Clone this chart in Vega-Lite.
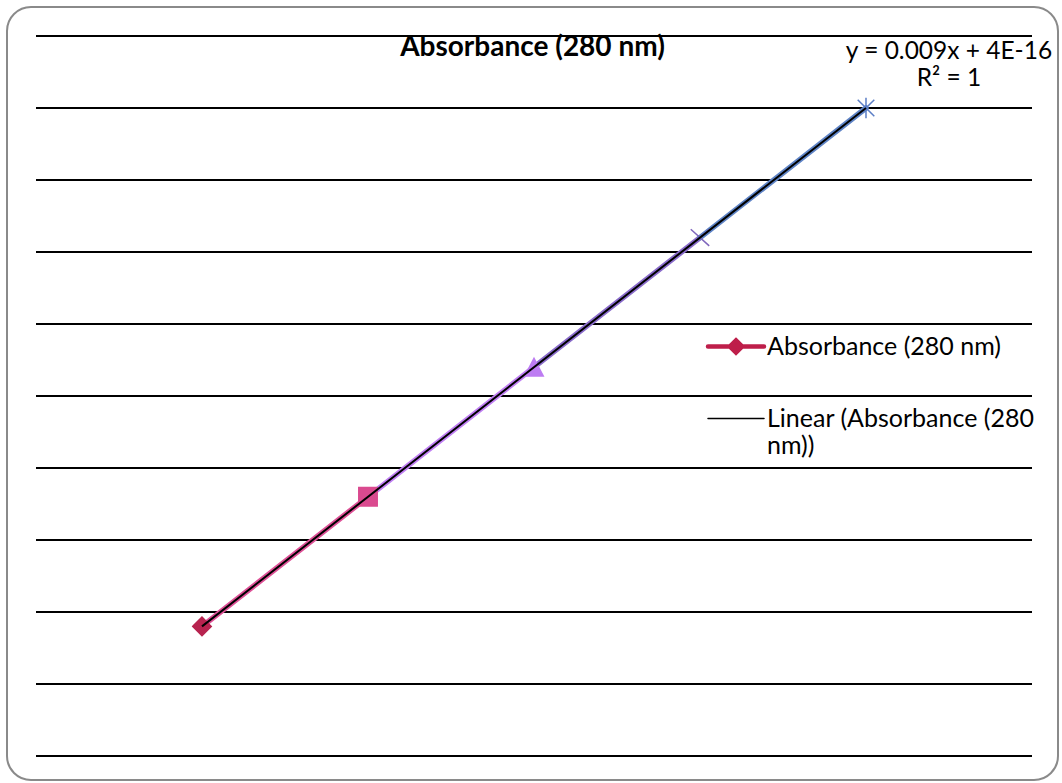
{
  "$schema": "https://vega.github.io/schema/vega-lite/v6.json",
  "width": 1051,
  "height": 773,
  "autosize": {"type": "none"},
  "padding": {"left": 7, "top": 7, "right": 4, "bottom": 3},
  "background": "white",
  "title": {
    "text": "Absorbance (280 nm)",
    "font": "Lato",
    "fontSize": 28,
    "fontWeight": "bold",
    "color": "#000000",
    "anchor": "middle",
    "offset": -55
  },
  "datasets": {
    "absorbance": [
      {"point": "1", "x": 20, "absorbance": 0.18},
      {"point": "2", "x": 40, "absorbance": 0.36},
      {"point": "3", "x": 60, "absorbance": 0.54},
      {"point": "4", "x": 80, "absorbance": 0.72},
      {"point": "5", "x": 100, "absorbance": 0.90}
    ],
    "grid": [
      {"level": 0}, {"level": 0.1}, {"level": 0.2}, {"level": 0.3}, {"level": 0.4},
      {"level": 0.5}, {"level": 0.6}, {"level": 0.7}, {"level": 0.8}, {"level": 0.9},
      {"level": 1.0}
    ],
    "fit": [
      {"label": "y = 0.009x + 4E-16\nR² = 1"}
    ]
  },
  "data": {"name": "absorbance"},
  "resolve": {"scale": {"stroke": "independent"}},
  "layer": [
    {
      "data": {"name": "grid"},
      "mark": {"type": "rule", "color": "#000000", "strokeWidth": 2},
      "encoding": {
        "x": {"datum": 0, "type": "quantitative", "scale": {"domain": [-3.494, 123.133], "nice": false, "zero": false}, "axis": null},
        "x2": {"datum": 120},
        "y": {"field": "level", "type": "quantitative", "scale": {"domain": [-0.03333, 1.04028], "nice": false, "zero": false}, "axis": null}
      }
    },
    {
      "transform": [
        {"window": [
          {"op": "lead", "field": "x", "as": "x_next"},
          {"op": "lead", "field": "absorbance", "as": "a_next"},
          {"op": "lead", "field": "point", "as": "p_next"}
        ], "sort": [{"field": "x", "order": "ascending"}]},
        {"filter": "datum.x_next != null"}
      ],
      "mark": {"type": "rule", "strokeWidth": 5.5, "strokeCap": "round"},
      "encoding": {
        "x": {"field": "x", "type": "quantitative"},
        "y": {"field": "absorbance", "type": "quantitative"},
        "x2": {"field": "x_next"},
        "y2": {"field": "a_next"},
        "stroke": {
          "field": "p_next", "type": "nominal", "legend": null,
          "scale": {"domain": ["1", "2", "3", "4", "5"], "range": ["#B7234F", "#DE5197", "#C07FF3", "#8A6CCB", "#5F84C6"]}
        }
      }
    },
    {
      "mark": {"type": "point", "filled": true, "size": 340, "strokeWidth": 1.5, "opacity": 1},
      "encoding": {
        "x": {"field": "x", "type": "quantitative"},
        "y": {"field": "absorbance", "type": "quantitative"},
        "shape": {
          "field": "point", "type": "nominal", "legend": null,
          "scale": {"domain": ["1", "2", "3", "4", "5"], "range": ["diamond", "square", "M0,-0.95L1,0.95L-1,0.95Z", "M-1,-0.9L1,0.9M-1,0.9L1,-0.9", "M-0.9,-0.9L0.9,0.9M-0.9,0.9L0.9,-0.9M0,-1.1V1.1"]}
        },
        "fill": {
          "field": "point", "type": "nominal", "legend": null,
          "scale": {"domain": ["1", "2", "3", "4", "5"], "range": ["#B7234F", "#DA4A8F", "#BD7CF2", "#7F66BC", "#5B7EC6"]}
        },
        "stroke": {
          "field": "point", "type": "nominal", "legend": null,
          "scale": {"domain": ["1", "2", "3", "4", "5"], "range": ["#B7234F", "#DA4A8F", "#BD7CF2", "#7F66BC", "#5B7EC6"]}
        }
      }
    },
    {
      "transform": [{"regression": "absorbance", "on": "x"}],
      "mark": {"type": "line", "strokeWidth": 2},
      "encoding": {
        "x": {"field": "x", "type": "quantitative"},
        "y": {"field": "absorbance", "type": "quantitative"},
        "color": {
          "datum": "Linear (Absorbance (280 nm))",
          "type": "nominal",
          "scale": {"domain": ["Absorbance (280 nm)", "Linear (Absorbance (280 nm))"], "range": ["#BE1E4A", "#000000"]},
          "legend": {
            "orient": "none",
            "legendX": 701,
            "legendY": 327,
            "title": null,
            "padding": 0,
            "symbolSize": 576,
            "symbolType": "M-1,0H1",
            "symbolStrokeWidth": 1.5,
            "labelFont": "Lato",
            "labelFontSize": 25,
            "labelColor": "#000000",
            "labelOffset": 3,
            "labelLimit": 400,
            "rowPadding": 44,
            "labelExpr": "datum.label == 'Linear (Absorbance (280 nm))' ? ['Linear (Absorbance (280', 'nm))'] : datum.label",
            "encode": {
              "symbols": {
                "update": {
                  "x": {"value": 28},
                  "size": {"value": 3136},
                  "shape": {"signal": "datum.value == 'Absorbance (280 nm)' ? 'M-1,0H1M0,-0.22L0.22,0L0,0.22L-0.22,0Z' : 'M-1,0H1'"},
                  "strokeWidth": {"signal": "datum.value == 'Absorbance (280 nm)' ? 4.5 : 1.5"},
                  "strokeCap": {"value": "round"},
                  "fill": {"signal": "scale('color', datum.value)"},
                  "stroke": {"signal": "scale('color', datum.value)"},
                  "opacity": {"value": 1}
                }
              },
              "labels": {
                "update": {
                  "x": {"value": 59},
                  "lineHeight": {"value": 27}
                }
              }
            }
          }
        }
      }
    },
    {
      "data": {"name": "fit"},
      "mark": {"type": "text", "font": "Lato", "fontSize": 24.5, "color": "#000000", "align": "center", "baseline": "middle", "lineBreak": "\n", "lineHeight": 27},
      "encoding": {
        "x": {"datum": 110, "type": "quantitative"},
        "y": {"datum": 0.9778, "type": "quantitative"},
        "text": {"field": "label"}
      }
    }
  ],
  "config": {
    "view": {"stroke": "#8a8a8a", "strokeWidth": 2, "cornerRadius": 24, "fill": "white"}
  }
}
